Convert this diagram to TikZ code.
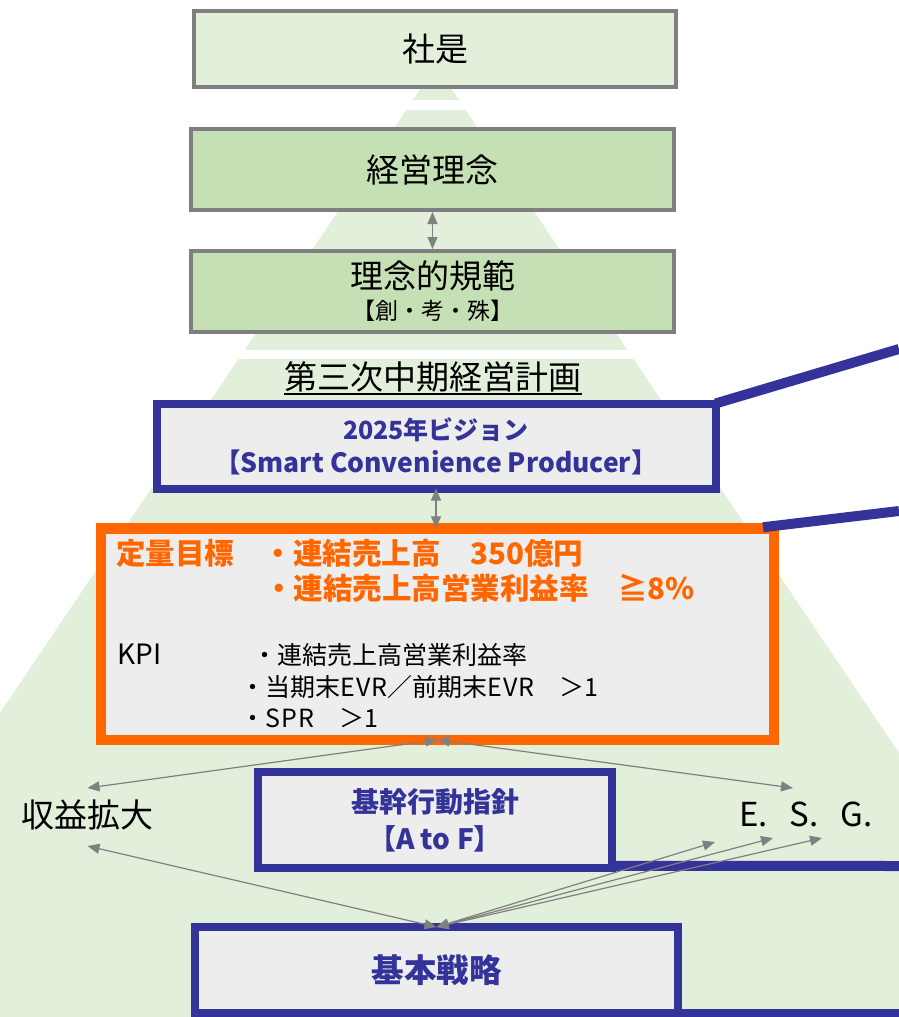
\documentclass[tikz,border=0pt]{standalone}
\usepackage{fontspec}
\setmainfont{Noto Sans CJK JP}
\usetikzlibrary{arrows.meta,calc}
\definecolor{pyr}{HTML}{E2EFDA}
\definecolor{midgreen}{HTML}{C5E0B4}
\definecolor{boxgray}{HTML}{7F7F7F}
\definecolor{navy}{HTML}{333399}
\definecolor{orng}{HTML}{FF6600}
\definecolor{panel}{HTML}{EDEDED}
\definecolor{arrgray}{HTML}{808080}
\begin{document}
\begin{tikzpicture}[x=1pt,y=-1pt,
  greenbox/.style={draw=boxgray, line width=4pt, inner sep=0pt, minimum width=483pt, align=center},
  bluebox/.style={draw=navy, line width=8pt, fill=panel, inner sep=0pt, outer sep=0pt, align=center, text=navy},
  link/.style={draw=arrgray, line width=1.2pt, {Triangle[length=12pt,width=10pt]}-{Triangle[length=12pt,width=10pt]}},
  callout/.style={draw=navy, line width=10pt},
  big/.style={font=\fontsize{33}{40}\selectfont},
  plain/.style={inner sep=0pt, anchor=base west},
]
\useasboundingbox (0,0) rectangle (899,1017);
\begin{scope}
  \clip (0,0) rectangle (899,1017);
  \fill[pyr] (436,66) -- (-300,1158) -- (1172,1158) -- cycle;
  \fill[white] (0,100) rectangle (899,110);
  \fill[white] (0,350) rectangle (899,359);
\end{scope}

% upper boxes
\node[greenbox, fill=pyr, minimum width=482pt, minimum height=76pt, big] (motto) at (435,49) {社是};
\node[greenbox, fill=midgreen, minimum height=81pt, big] (rinen) at (432.5,169.5) {経営理念};
\node[greenbox, fill=midgreen, minimum height=81pt, font=\fontsize{23}{31}\selectfont] (kihan) at (432.5,291.5)
  {{\fontsize{33}{40}\selectfont 理念的規範}\\【創・考・殊】};

\node[big, inner sep=0pt] (plan) at (433,377) {第三次中期経営計画};
\draw[line width=1.4pt] ($(plan.base west)+(0,4.5)$) -- ($(plan.base east)+(0,4.5)$);

% vision
\node[bluebox, minimum width=559pt, minimum height=85pt, font=\bfseries\fontsize{25}{33}\selectfont] (vision) at (436,446)
  {2025年ビジョン\\{\fontsize{26.5}{33}\selectfont【Smart Convenience Producer】}};

% targets box
\node[draw=orng, line width=10.5pt, fill=panel, inner sep=0pt, outer sep=0pt, minimum width=673pt, minimum height=211.5pt] (target) at (437.5,634) {};
\node[plain, text=orng, font=\bfseries\fontsize{29.5}{35}\selectfont] (goal1) at (116,564.2) {定量目標　・連結売上高　350億円};
\node[plain, text=orng, font=\bfseries\fontsize{29.5}{35}\selectfont] (goal2) at (264,599.2) {・連結売上高営業利益率　≧8\%};
\node[plain, font=\fontsize{28}{31}\selectfont] (kpi) at (117,664.5) {KPI};
\node[plain, font=\fontsize{25}{31}\selectfont] (kpi1) at (252.5,664.5) {・連結売上高営業利益率};
\node[plain, font=\fontsize{25}{31}\selectfont] (kpi2) at (240.5,696.5) {・当期末E\kern1ptV\kern1ptR／前期末E\kern1ptV\kern1ptR　＞1};
\node[plain, font=\fontsize{25}{31}\selectfont] (kpi3) at (240.5,727.5) {・S\kern1ptP\kern1ptR　＞1};

% action guideline and basic strategy
\node[bluebox, minimum width=354pt, minimum height=95.5pt, font=\bfseries\fontsize{28}{37}\selectfont] (guide) at (435,820)
  {基幹行動指針\\【A to F】};
\node[bluebox, minimum width=483pt, minimum height=86pt, font=\bfseries\fontsize{32.5}{40}\selectfont] (base) at (436.5,970) {基本戦略};

\node[big, inner sep=0pt] (revenue) at (87.5,815) {収益拡大};
\node[big, inner sep=0pt] (esg) at (806,814) {E.\hspace{22pt}S.\hspace{22pt}G.};

% callout lines to the right edge
\coordinate (c1) at (899,349);
\coordinate (c2) at (899,511);
\coordinate (c3) at (899,866);
\coordinate (c4) at (899,1013);
\draw[callout] (vision.north east) -- (c1);
\draw[callout] ($(target.north east)+(-11,-1)$) -- (c2);
\draw[callout] ($(guide.south east)+(-4,-2)$) -- (c3);
\draw[callout, line width=9pt] ($(base.south east)+(-4,0)$) -- (c4);

% arrows
\draw[link] (rinen.south) -- (kihan.north);
\draw[link] (vision.south) -- (vision.south |- target.north);
\draw[link] (target.south) -- ($(revenue.center)+(0,-27)$);
\draw[link] (target.south) -- ($(esg.center)+(-13,-26)$);
\draw[link] ($(revenue.center)+(0,31)$) -- (base.north);
\draw[link] (base.north) -- ($(esg.center)+(-91,28)$);
\draw[link] (base.north) -- ($(esg.center)+(-33,24)$);
\draw[link] (base.north) -- ($(esg.center)+(16,24)$);
\end{tikzpicture}
\end{document}
